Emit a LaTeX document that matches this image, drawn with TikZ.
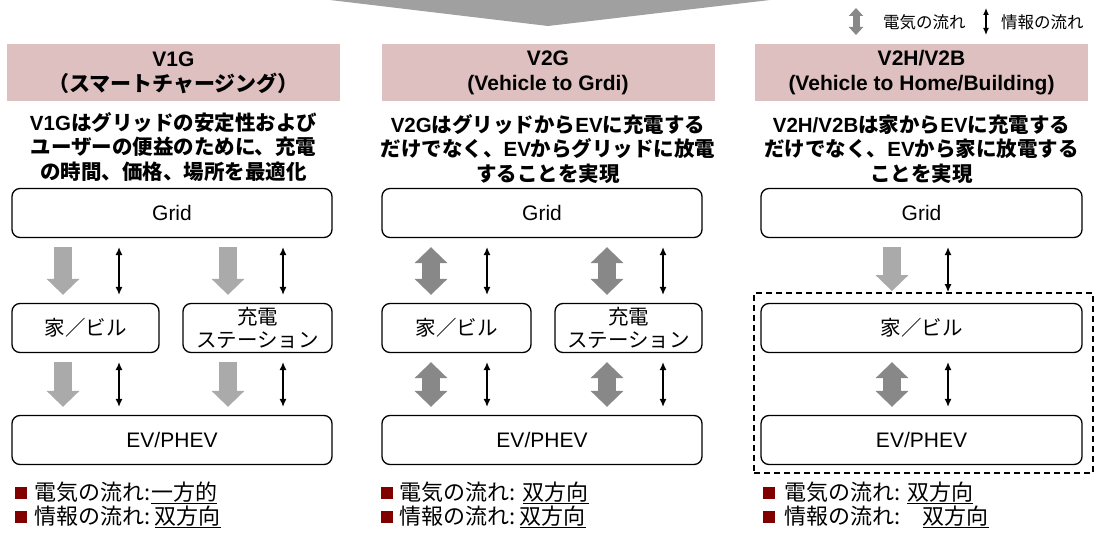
\documentclass[tikz,border=0pt]{standalone}
\usepackage{fontspec}
\setmainfont{Noto Sans CJK JP}
\newfontfamily\arial{Liberation Sans}
\newcommand{\lat}[1]{{\arial #1}}
\usetikzlibrary{arrows.meta}
\usetikzlibrary{positioning}
\definecolor{headpink}{RGB}{222,192,192}
\definecolor{lightarrow}{RGB}{170,170,170}
\definecolor{darkarrow}{RGB}{136,136,136}
\definecolor{chevgray}{RGB}{160,160,160}
\definecolor{bulletred}{RGB}{128,0,0}
\tikzstyle{headbox}=[fill=headpink, minimum width=333pt, minimum height=57pt, inner sep=0pt, align=center, font=\fontsize{21}{25}\selectfont\bfseries]
\tikzstyle{desc}=[align=center, inner sep=0pt, font=\fontsize{20.5}{24.5}\selectfont\bfseries]
\tikzstyle{wide}=[draw, rounded corners=8pt, line width=1.3pt, minimum width=320pt, minimum height=49pt, inner sep=0pt, align=center, font=\fontsize{21}{23}\selectfont]
\tikzstyle{half}=[wide, minimum width=148pt, font=\fontsize{20.5}{23}\selectfont]
\tikzstyle{frame}=[draw, dashed, dash pattern=on 6pt off 4pt, line width=1.8pt]
\tikzstyle{oneway}=[line width=18pt, lightarrow, -{Triangle[width=32pt,length=16pt]}, shorten <=9pt, shorten >=8pt]
\tikzstyle{twoway}=[line width=18pt, darkarrow, {Triangle[width=32pt,length=16pt]}-{Triangle[width=32pt,length=16pt]}, shorten <=9pt, shorten >=8pt]
\tikzstyle{info}=[line width=1.2pt, {Latex[length=8pt,width=7pt]}-{Latex[length=8pt,width=7pt]}, shorten <=9pt, shorten >=8pt]
\tikzstyle{legendtext}=[anchor=west, inner sep=0pt, font=\fontsize{16.5}{18}\selectfont]
\tikzstyle{sq}=[fill=bulletred, minimum size=12pt, inner sep=0pt]
\tikzstyle{bullet}=[anchor=west, inner sep=0pt, font=\fontsize{22}{25}\selectfont]

\begin{document}
\begin{tikzpicture}[x=1pt, y=-1pt]

\useasboundingbox (0,0) rectangle (1094,534);

% top chevron
\fill[chevgray] (330,0) -- (548,26) -- (770,0) -- cycle;

% legend
\coordinate (lgA) at (856,8);
\coordinate (lgB) at (856,35);
\coordinate (lgC) at (986,8);
\coordinate (lgD) at (986,35);
\draw[line width=7pt, darkarrow, {Triangle[width=14pt,length=8pt]}-{Triangle[width=14pt,length=8pt]}] (lgA) -- (lgB);
\node[legendtext] (lgPower) at (883,22) {電気の流れ};
\draw[line width=1.2pt, {Latex[length=7pt,width=6pt]}-{Latex[length=7pt,width=6pt]}] (lgC) -- (lgD);
\node[legendtext] (lgInfo) at (1001,22) {情報の流れ};

% headers
\node[headbox] (h1) at (173.5,72.5) {\lat{V1G}\\（スマートチャージング）};
\node[headbox] (h2) at (548,72.5) {\lat{V2G}\\\lat{(Vehicle to Grdi)}};
\node[headbox] (h3) at (921.5,72.5) {\lat{V2H/V2B}\\\lat{(Vehicle to Home/Building)}};

\node[desc] (d1) at (173.5,147) {\lat{V1G}はグリッドの安定性および\\ユーザーの便益のために、充電\\の時間、価格、場所を最適化};
\node[desc] (d2) at (548,149) {\lat{V2G}はグリッドから\lat{EV}に充電する\\だけでなく、\lat{EV}からグリッドに放電\\することを実現};
\node[desc] (d3) at (921.5,149) {\lat{V2H/V2B}は家から\lat{EV}に充電する\\だけでなく、\lat{EV}から家に放電する\\ことを実現};

% boxes
\node[wide] (grid1) at (172,213) {\lat{Grid}};
\node[half, minimum width=147pt] (home1) at (85.5,328) {家／ビル};
\node[half, minimum width=149pt] (stat1) at (257.5,328) {充電\\ステーション};
\node[wide] (ev1) at (172,440) {\lat{EV/PHEV}};

\node[wide] (grid2) at (542,213) {\lat{Grid}};
\node[half, minimum width=149pt] (home2) at (456.5,328) {家／ビル};
\node[half, minimum width=147pt] (stat2) at (628.5,328) {充電\\ステーション};
\node[wide] (ev2) at (542,440) {\lat{EV/PHEV}};

\node[wide, minimum width=321pt] (grid3) at (921.5,213) {\lat{Grid}};
\node[wide, minimum width=321pt, font=\fontsize{20.5}{23}\selectfont] (home3) at (921.5,328) {家／ビル};
\node[wide, minimum width=321pt] (ev3) at (921.5,440) {\lat{EV/PHEV}};
\node[frame, minimum width=339pt, minimum height=180pt] (frame3) at (923.5,383) {};

% power flow
\foreach \x/\a/\b/\kind in {63/grid1/home1/oneway, 63/home1/ev1/oneway, 228/grid1/stat1/oneway, 228/stat1/ev1/oneway,
                            431/grid2/home2/twoway, 431/home2/ev2/twoway, 607/grid2/stat2/twoway, 607/stat2/ev2/twoway,
                            892/home3/ev3/twoway}
    \draw[\kind] (\x,0 |- \a.south) -- (\x,0 |- \b.north);
\draw[oneway, shorten >=1pt] (892,0 |- grid3.south) -- (892,0 |- frame3.north);

% information flow
\foreach \x/\a/\b in {119/grid1/home1, 119/home1/ev1, 283/grid1/stat1, 283/stat1/ev1,
                      487/grid2/home2, 487/home2/ev2, 663/grid2/stat2, 663/stat2/ev2,
                      948/home3/ev3}
    \draw[info] (\x,0 |- \a.south) -- (\x,0 |- \b.north);
\draw[info, shorten >=0pt] (948,0 |- grid3.south) -- (948,0 |- frame3.north);

% summary
\node[sq] (sq11) at (20.5,493) {};
\node[sq] (sq12) at (20.5,517) {};
\node[bullet, right=8pt of sq11] (b11) {電気の流れ:\underline{一方的}};
\node[bullet, right=8pt of sq12] (b12) {情報の流れ:\,\underline{双方向}};

\node[sq] (sq21) at (386.5,493) {};
\node[sq] (sq22) at (386.5,517) {};
\node[bullet, right=7pt of sq21] (b21) {電気の流れ: \underline{双方向}};
\node[bullet, right=7pt of sq22] (b22) {情報の流れ:\,\underline{双方向}};

\node[sq] (sq31) at (769,493) {};
\node[sq] (sq32) at (769,517) {};
\node[bullet, right=9pt of sq31] (b31) {電気の流れ: \underline{双方向}};
\node[bullet, right=9pt of sq32] (b32) {情報の流れ:\quad\underline{双方向}};

\end{tikzpicture}
\end{document}
